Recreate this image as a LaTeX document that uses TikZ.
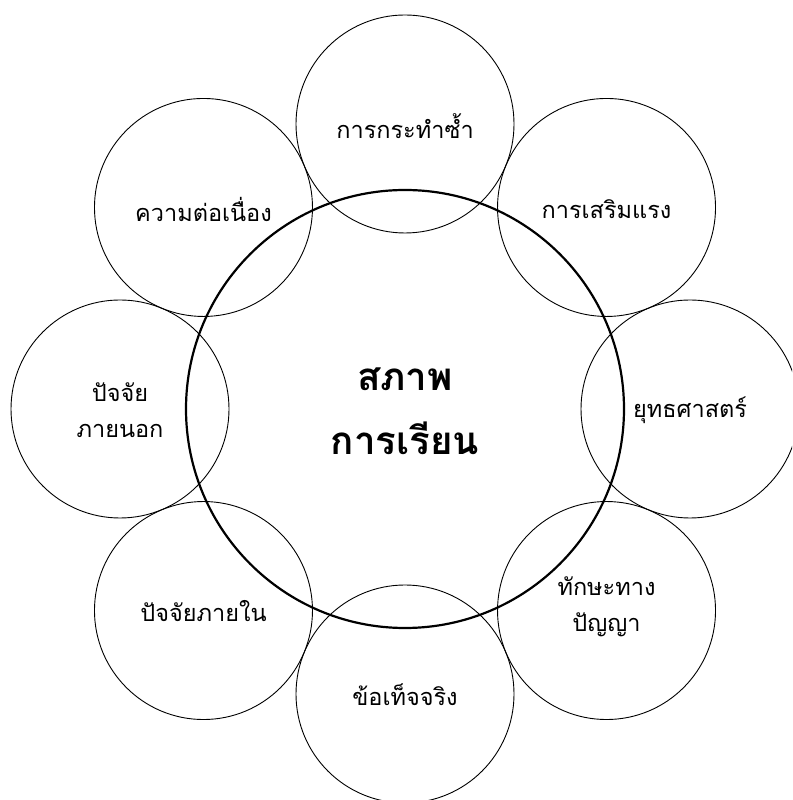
\documentclass[tikz,border=0pt]{standalone}
\usepackage{fontspec}
\newfontfamily\thaifont[Script=Thai]{Loma}
\usetikzlibrary{positioning}

\begin{document}
\begin{tikzpicture}[x=1pt, y=1pt,
						topic/.style={circle, draw, line width=0.9pt, minimum size=218pt, inner sep=0pt},
						core/.style={circle, draw, line width=2.2pt, minimum size=438pt, inner sep=0pt},
						topictext/.style={font=\thaifont\fontsize{23.5}{36}\selectfont, align=center},
						coretext/.style={font=\thaifont\bfseries\fontsize{38.5}{64}\selectfont, align=center}
						]
						\useasboundingbox (0,0) rectangle (792,800);
						\clip (0,0) rectangle (792,800);
						
						\node [topic] (c_top) at (405,676) {};
						\node [topic] (c_topright) at ([shift={(45:285)}]405,391) {};
						\node [topic] (c_right) at (690,391) {};
						\node [topic] (c_botright) at ([shift={(-45:285)}]405,391) {};
						\node [topic] (c_bot) at (405,106) {};
						\node [topic] (c_botleft) at ([shift={(-135:285)}]405,391) {};
						\node [topic] (c_left) at (120,391) {};
						\node [topic] (c_topleft) at ([shift={(135:285)}]405,391) {};
						
						\node [core] (c_core) at (405,391) {};
						
						\node [topictext] (t_top) at ([yshift=-2pt]c_top) {การกระทำซ้ำ};
						\node [topictext] (t_topright) at ([yshift=-2pt]c_topright) {การเสริมแรง};
						\node [topictext] (t_right) at ([yshift=-1pt]c_right) {ยุทธศาสตร์};
						\node [topictext] (t_botright) at ([yshift=4pt]c_botright) {ทักษะทาง\\ปัญญา};
						\node [topictext] (t_bot) at ([yshift=-1pt]c_bot) {ข้อเท็จจริง};
						\node [topictext] (t_botleft) at (c_botleft) {ปัจจัยภายใน};
						\node [topictext] (t_left) at ([yshift=-1pt]c_left) {ปัจจัย\\ภายนอก};
						\node [topictext] (t_topleft) at ([yshift=-2pt]c_topleft) {ความต่อเนื่อง};
						
						\node [coretext] (t_core) at ([yshift=-2pt]c_core) {สภาพ\\การเรียน};
					\end{tikzpicture}
\end{document}
